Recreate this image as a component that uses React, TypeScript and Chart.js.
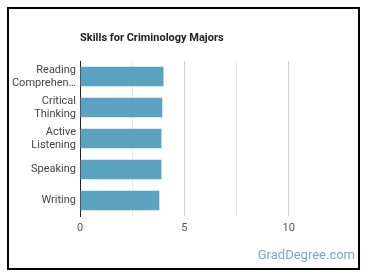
import React, { useEffect, useRef } from 'react';
import { Chart, registerables } from 'chart.js';

Chart.register(...registerables);

const categories: string[][] = [
  ['Reading', 'Comprehen…'],
  ['Critical', 'Thinking'],
  ['Active', 'Listening'],
  ['Speaking'],
  ['Writing'],
];
const values = [4.0, 3.94, 3.9, 3.9, 3.8];
const xTicks = [0, 2.5, 5, 7.5, 10, 12.5];
const xLabels = [0, 5, 10];
const title = 'Skills for Criminology Majors';
const watermark = 'GradDegree.com';

const FONT = 'Roboto, "Noto Sans", Arial, sans-serif';

const textPlugin = {
  id: 'texts',
  afterDraw(chart: any) {
    const ctx = chart.ctx;
    ctx.save();
    ctx.font = `bold 11px ${FONT}`;
    ctx.fillStyle = '#222';
    ctx.textBaseline = 'middle';
    ctx.textAlign = 'left';
    ctx.fillText(title, chart.chartArea.left, 38);
    ctx.font = `13px ${FONT}`;
    ctx.fillStyle = '#72a9c9';
    ctx.textAlign = 'right';
    ctx.fillText(watermark, 355, 256);
    ctx.restore();
  },
};

export default function App() {
  const ref = useRef<HTMLCanvasElement>(null);

  useEffect(() => {
    if (!ref.current) return;
    const chart = new Chart(ref.current, {
      type: 'bar',
      data: {
        labels: categories,
        datasets: [
          {
            data: values,
            backgroundColor: '#5ba2c0',
            borderWidth: 0,
            categoryPercentage: 1,
            barPercentage: 0.63,
          },
        ],
      },
      options: {
        indexAxis: 'y',
        responsive: false,
        animation: false,
        devicePixelRatio: 1,
        layout: { padding: { top: 61, right: 29, bottom: 42, left: 0 } },
        plugins: {
          legend: { display: false },
          tooltip: { enabled: false },
          title: { display: false },
        },
        scales: {
          x: {
            min: 0,
            max: 12.5,
            afterBuildTicks(scale: any) {
              scale.ticks = xTicks.map((v) => ({ value: v }));
            },
            afterFit(scale: any) {
              scale.height = 20;
            },
            ticks: {
              padding: 6,
              color: '#555',
              font: { family: FONT, size: 11 },
              callback: (v: any) => (xLabels.includes(Number(v)) ? String(v) : ''),
              maxRotation: 0,
              autoSkip: false,
            },
            grid: {
              drawTicks: false,
              color: (c: any) => {
                const v = c.tick ? c.tick.value : 0;
                if (v === 12.5 || v === 0) return 'rgba(0,0,0,0)';
                return xLabels.includes(v) ? '#cfcfcf' : '#e8e8e8';
              },
              lineWidth: 1,
            },
            border: { display: false },
          },
          y: {
            afterFit(scale: any) {
              scale.width = 80;
            },
            ticks: {
              padding: 4,
              color: '#444',
              font: { family: FONT, size: 11 },
              autoSkip: false,
            },
            grid: { display: false, drawTicks: false },
            border: { display: true, color: '#222', width: 1 },
          },
        },
      },
      plugins: [textPlugin],
    });
    return () => chart.destroy();
  }, []);

  return (
    <div style={{ position: 'fixed', left: 0, top: 0, width: 370, height: 278, background: '#fff' }}>
      <canvas ref={ref} width={370} height={278} style={{ position: 'absolute', left: 0, top: 0 }} />
      <div
        style={{
          position: 'absolute',
          left: 7,
          top: 7,
          width: 349,
          height: 259,
          border: '2px solid #000',
          pointerEvents: 'none',
        }}
      />
    </div>
  );
}
